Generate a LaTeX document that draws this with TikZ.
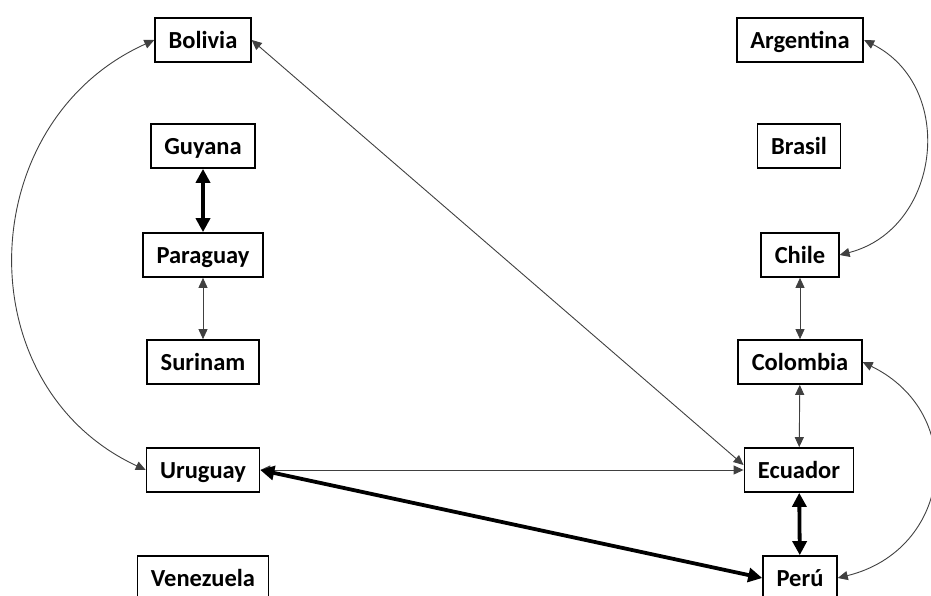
\documentclass[tikz,border=0pt]{standalone}
\usepackage{fontspec}
\setmainfont{Carlito}
\usetikzlibrary{arrows.meta}
\begin{document}
\begin{tikzpicture}[x=1pt,y=-1pt,
  country/.style={draw=black, line width=1.7pt, inner xsep=13.5pt, inner ysep=0pt,
    minimum height=44pt, text height=16.5pt, text depth=0pt,
    font=\fontsize{24.5}{28}\selectfont\bfseries, text=black},
  thinlink/.style={draw=black!75, line width=0.9pt,
    {Triangle[length=10pt,width=9pt]}-{Triangle[length=10pt,width=9pt]}},
  thicklink/.style={draw=black, line width=3.8pt,
    {Triangle[length=14pt,width=14pt]}-{Triangle[length=14pt,width=14pt]}}]
\useasboundingbox (0,0) rectangle (931,596);

% left column
\node[country] (bol) at (203,40)  {Bolivia};
\node[country] (guy) at (203,146) {Guyana};
\node[country] (par) at (203,255) {Paraguay};
\node[country] (sur) at (203,362) {Surinam};
\node[country] (uru) at (203,470) {Uruguay};
\node[country] (ven) at (203,578) {Venezuela};

% right column
\node[country] (arg) at (800,40)  {Argentina};
\node[country] (bra) at (799,146) {Brasil};
\node[country] (chi) at (800,255) {Chile};
\node[country] (col) at (800,362) {Colombia};
\node[country] (ecu) at (799,470) {Ecuador};
\node[country] (per) at (800,578) {Perú};

% straight links
\draw[thicklink] (guy) -- (par);
\draw[thinlink] (par) -- (sur);
\draw[thinlink] (chi) -- (col);
\draw[thinlink] (col) -- (ecu);
\draw[thicklink] (ecu) -- (per);
\draw[thinlink] (bol.east) -- ([yshift=5pt]ecu.west);
\draw[thinlink] (uru.east) -- (ecu.west);
\draw[thicklink] (uru.east) -- (per.west);

% curved links
\draw[thinlink] (uru.west) .. controls +(-181,-84) and +(-182,82) .. (bol.west);
\draw[thinlink] (arg.east) .. controls +(93,47) and +(101,-26) .. (chi.east);
\draw[thinlink] (col.east) .. controls +(106,52) and +(114,-28) .. (per.east);
\end{tikzpicture}
\end{document}
